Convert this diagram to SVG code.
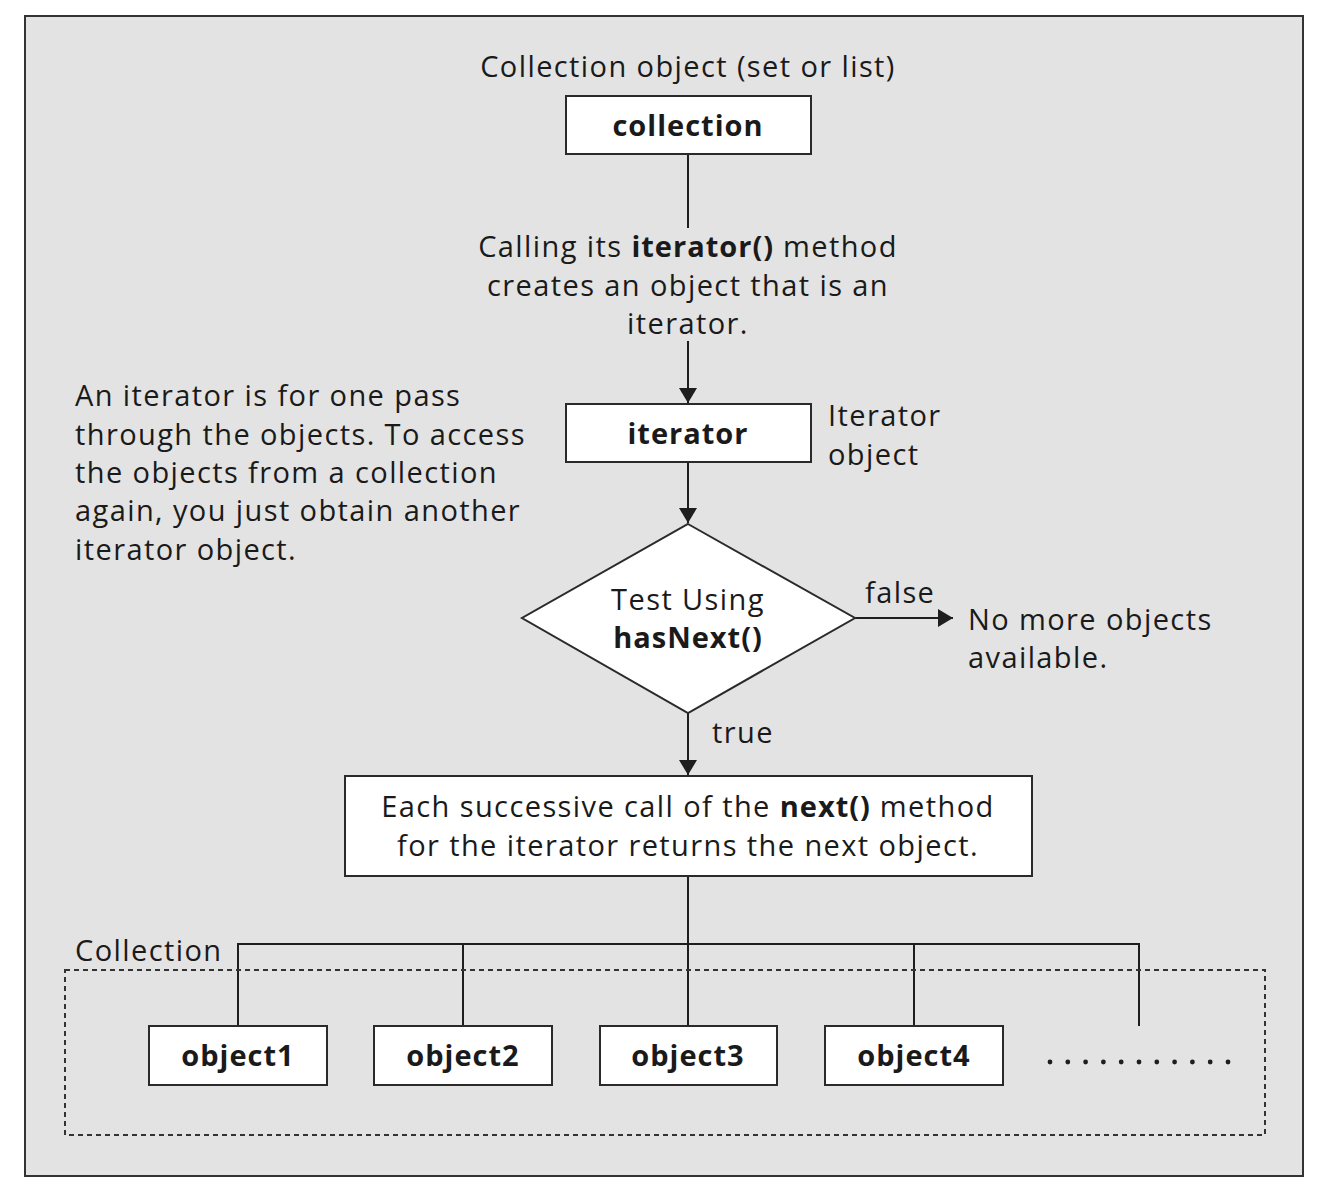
<svg xmlns="http://www.w3.org/2000/svg" width="1318" height="1192" viewBox="0 0 1318 1192">
<defs>
<style>
text{font-family:"Open Sans","Liberation Sans",sans-serif;font-size:29px;fill:#1a1a1a;letter-spacing:1.4px}
.b{font-weight:bold;letter-spacing:1px}
.c{text-anchor:middle}
.box{fill:#fff;stroke:#2a2a2a;stroke-width:2}
.ln{fill:none;stroke:#1e1e1e;stroke-width:2}
</style>
<marker id="ah2" viewBox="0 0 15 18" refX="15" refY="9" markerWidth="15" markerHeight="18" markerUnits="userSpaceOnUse" orient="auto">
<path d="M0,0 L15,9 L0,18 z" fill="#1e1e1e"/>
</marker>
</defs>
<rect x="25" y="16" width="1278" height="1160" fill="#e3e3e3" stroke="#333" stroke-width="2"/>
<g id="connectors">
<line class="ln" x1="688" y1="154" x2="688" y2="228"/>
<line class="ln" x1="688" y1="341" x2="688" y2="403" marker-end="url(#ah2)"/>
<line class="ln" x1="688" y1="462" x2="688" y2="523" marker-end="url(#ah2)"/>
<line class="ln" x1="855" y1="618" x2="953" y2="618" marker-end="url(#ah2)"/>
<line class="ln" x1="688" y1="713" x2="688" y2="775" marker-end="url(#ah2)"/>
<line class="ln" x1="688" y1="876" x2="688" y2="1026"/>
<polyline class="ln" points="238,1026 238,944 1139,944 1139,1026"/>
<line class="ln" x1="463" y1="944" x2="463" y2="1026"/>
<line class="ln" x1="914" y1="944" x2="914" y2="1026"/>
<text x="865" y="603">false</text>
<text x="712" y="743">true</text>
</g>
<g id="collection-label"><text class="c" x="688" y="77">Collection object (set or list)</text></g>
<g id="collection"><rect class="box" x="566" y="96" width="245" height="58"/><text class="b c" x="688" y="136">collection</text></g>
<g id="iterator-note"><text class="c" x="688" y="257">Calling its <tspan class="b">iterator()</tspan> method</text><text class="c" x="688" y="296">creates an object that is an</text><text class="c" x="688" y="334">iterator.</text></g>
<g id="iterator"><rect class="box" x="566" y="404" width="245" height="58"/><text class="b c" x="688" y="444">iterator</text></g>
<g id="iterator-object-label"><text x="828" y="426">Iterator</text><text x="828" y="465">object</text></g>
<g id="pass-note"><text x="75" y="406">An iterator is for one pass</text><text x="75" y="445">through the objects. To access</text><text x="75" y="483">the objects from a collection</text><text x="75" y="521">again, you just obtain another</text><text x="75" y="560">iterator object.</text></g>
<g id="test"><polygon class="box" points="688,524 855,618 688,713 522,618"/><text class="c" x="688" y="610">Test Using</text><text class="b c" x="688" y="648">hasNext()</text></g>
<g id="no-more"><text x="968" y="630">No more objects</text><text x="968" y="668">available.</text></g>
<g id="next"><rect class="box" x="345" y="776" width="687" height="100"/><text class="c" x="688" y="817">Each successive call of the <tspan class="b">next()</tspan> method</text><text class="c" x="688" y="856">for the iterator returns the next object.</text></g>
<g id="collection-group"><rect x="65" y="970" width="1200" height="165" fill="none" stroke="#333" stroke-width="2" stroke-dasharray="5,4"/><text x="75" y="961">Collection</text></g>
<g id="object1"><rect class="box" x="149" y="1026" width="178" height="59"/><text class="b c" x="238" y="1066">object1</text></g>
<g id="object2"><rect class="box" x="374" y="1026" width="178" height="59"/><text class="b c" x="463" y="1066">object2</text></g>
<g id="object3"><rect class="box" x="600" y="1026" width="177" height="59"/><text class="b c" x="688" y="1066">object3</text></g>
<g id="object4"><rect class="box" x="825" y="1026" width="178" height="59"/><text class="b c" x="914" y="1066">object4</text></g>
<g id="more" fill="#1e1e1e"><circle cx="1050" cy="1062" r="2.4"/><circle cx="1067.8" cy="1062" r="2.4"/><circle cx="1085.6" cy="1062" r="2.4"/><circle cx="1103.4" cy="1062" r="2.4"/><circle cx="1121.2" cy="1062" r="2.4"/><circle cx="1139" cy="1062" r="2.4"/><circle cx="1156.8" cy="1062" r="2.4"/><circle cx="1174.6" cy="1062" r="2.4"/><circle cx="1192.4" cy="1062" r="2.4"/><circle cx="1210.2" cy="1062" r="2.4"/><circle cx="1228" cy="1062" r="2.4"/></g>
</svg>
